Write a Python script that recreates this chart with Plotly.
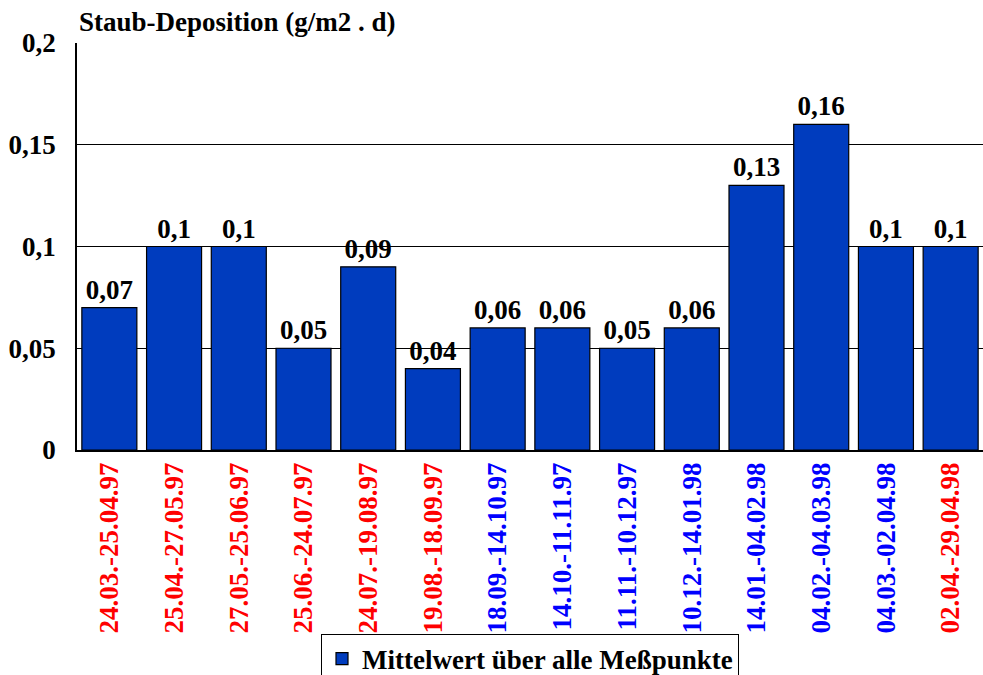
import plotly.graph_objects as go

# Messzeiträume und Werte
zeitraeume = ['24.03.-25.04.97', '25.04.-27.05.97', '27.05.-25.06.97', '25.06.-24.07.97',
              '24.07.-19.08.97', '19.08.-18.09.97', '18.09.-14.10.97', '14.10.-11.11.97',
              '11.11.-10.12.97', '10.12.-14.01.98', '14.01.-04.02.98', '04.02.-04.03.98',
              '04.03.-02.04.98', '02.04.-29.04.98']
deposition = [0.07, 0.1, 0.1, 0.05, 0.09, 0.04, 0.06, 0.06, 0.05, 0.06, 0.13, 0.16, 0.1, 0.1]
label_farben = ['red'] * 6 + ['blue'] * 7 + ['red']

y_ticks = [0, 0.05, 0.1, 0.15, 0.2]
y_ticktext = ['0', '0,05', '0,1', '0,15', '0,2']

schrift = 'Liberation Serif'
gross = 27

beschriftung = [f'<b>{str(v).replace(".", ",")}</b>' for v in deposition]
tick_text = [f'<span style="color:{c}"><b>{z}</b></span>' for z, c in zip(zeitraeume, label_farben)]

fig = go.Figure()
fig.add_trace(go.Bar(
    x=list(range(len(zeitraeume))),
    y=deposition,
    name='<b>Mittelwert über alle Meßpunkte</b>',
    marker=dict(color='#003CBE', line=dict(color='black', width=1.2)),
    text=beschriftung,
    textposition='outside',
    textfont=dict(family=schrift, size=gross, color='black'),
    cliponaxis=False,
))

fig.update_layout(
    width=983, height=675,
    margin=dict(l=77, r=0, t=43, b=225, autoexpand=False),
    paper_bgcolor='white', plot_bgcolor='white',
    font=dict(family=schrift, color='black'),
    bargap=0.15,
    showlegend=True,
    legend=dict(
        orientation='h', x=0.5, xanchor='center', y=-0.451, yanchor='top',
        bordercolor='black', borderwidth=1,
        font=dict(family=schrift, size=gross, color='black'),
    ),
    annotations=[dict(
        text='<b>Staub-Deposition (g/m2 . d)</b>', xref='paper', yref='paper',
        x=0.0, y=1.052, xanchor='left', yanchor='middle', showarrow=False,
        font=dict(family=schrift, size=gross, color='black'),
    )],
)

fig.update_xaxes(
    tickmode='array', tickvals=list(range(len(zeitraeume))), ticktext=tick_text,
    tickangle=-90, tickfont=dict(family=schrift, size=gross),
    showline=True, linecolor='black', linewidth=1.5, ticks='',
    range=[-0.5, len(zeitraeume) - 0.5], showgrid=False, automargin=False,
)
fig.update_yaxes(
    range=[0, 0.2], tickmode='array', tickvals=y_ticks,
    ticktext=[f'<b>{t}</b>' for t in y_ticktext],
    tickfont=dict(family=schrift, size=gross), ticklabelstandoff=14,
    showgrid=True, gridcolor='black', gridwidth=1, automargin=False,
    showline=True, linecolor='black', linewidth=1.5, ticks='', zeroline=False,
)

# Seitenrand entfernen, damit die Figur das ganze Fenster füllt
fig.write_html('out.html', config={'displayModeBar': False},
               post_script="document.body.style.margin='0';document.body.style.overflow='hidden';")
